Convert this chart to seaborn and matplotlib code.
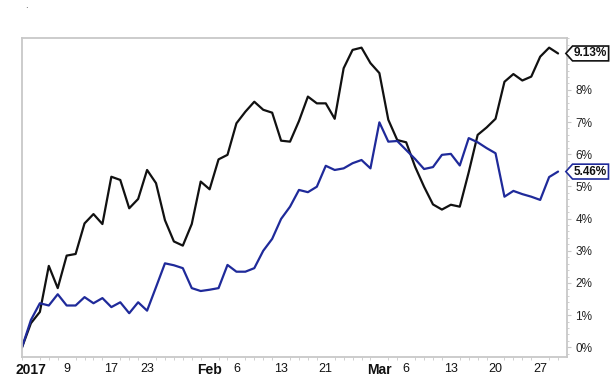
import matplotlib
matplotlib.use("Agg")
import matplotlib.pyplot as plt
import matplotlib.transforms as mtransforms
from matplotlib.path import Path
from matplotlib.ticker import MultipleLocator, FixedLocator
import seaborn as sns
import pandas as pd

# ---- data (trading days, cumulative % performance) ----
dates = ["2016-12-30",
         "2017-01-03", "2017-01-04", "2017-01-05", "2017-01-06", "2017-01-09", "2017-01-10",
         "2017-01-11", "2017-01-12", "2017-01-13", "2017-01-17", "2017-01-18", "2017-01-19",
         "2017-01-20", "2017-01-23", "2017-01-24", "2017-01-25", "2017-01-26", "2017-01-27",
         "2017-01-30", "2017-01-31",
         "2017-02-01", "2017-02-02", "2017-02-03", "2017-02-06", "2017-02-07", "2017-02-08",
         "2017-02-09", "2017-02-10", "2017-02-13", "2017-02-14", "2017-02-15", "2017-02-16",
         "2017-02-17", "2017-02-21", "2017-02-22", "2017-02-23", "2017-02-24", "2017-02-27",
         "2017-02-28",
         "2017-03-01", "2017-03-02", "2017-03-03", "2017-03-06", "2017-03-07", "2017-03-08",
         "2017-03-09", "2017-03-10", "2017-03-13", "2017-03-14", "2017-03-15", "2017-03-16",
         "2017-03-17", "2017-03-20", "2017-03-21", "2017-03-22", "2017-03-23", "2017-03-24",
         "2017-03-27", "2017-03-28", "2017-03-29"]

black_series = [0, 0.75, 1.1, 2.53, 1.84, 2.85, 2.9, 3.85, 4.14, 3.83, 5.3,
                5.2, 4.32, 4.61, 5.51, 5.1, 3.95, 3.29, 3.16, 3.83, 5.15,
                4.91, 5.84, 5.98, 6.96, 7.32, 7.63, 7.38, 7.29, 6.42, 6.39,
                7.03, 7.79, 7.58, 7.58, 7.1, 8.67, 9.24, 9.31, 8.83, 8.52,
                7.07, 6.44, 6.37, 5.61, 4.99, 4.44, 4.28, 4.43, 4.37, 5.44,
                6.6, 6.83, 7.1, 8.25, 8.49, 8.29, 8.41, 9.03, 9.31, 9.13]

blue_series = [0, 0.85, 1.37, 1.3, 1.65, 1.3, 1.3, 1.56, 1.37, 1.53, 1.25,
               1.4, 1.06, 1.4, 1.14, 1.87, 2.61, 2.55, 2.46, 1.84, 1.75,
               1.79, 1.84, 2.56, 2.35, 2.35, 2.46, 3.0, 3.37, 3.99, 4.37,
               4.89, 4.82, 4.99, 5.64, 5.51, 5.56, 5.72, 5.82, 5.56, 6.99,
               6.39, 6.41, 6.13, 5.85, 5.54, 5.6, 5.98, 6.01, 5.65, 6.5,
               6.37, 6.19, 6.03, 4.68, 4.86, 4.76, 4.68, 4.58, 5.29, 5.46]

tick_dates = ["2017-01-03", "2017-01-09", "2017-01-17", "2017-01-23", "2017-02-01",
              "2017-02-06", "2017-02-13", "2017-02-21", "2017-03-01", "2017-03-06",
              "2017-03-13", "2017-03-20", "2017-03-27"]
tick_labels = ["2017", "9", "17", "23", "Feb", "6", "13", "21", "Mar", "6", "13", "20", "27"]
bold_labels = ["2017", "Feb", "Mar"]
y_ticks = [0, 1, 2, 3, 4, 5, 6, 7, 8]
y_labels = ["0%", "1%", "2%", "3%", "4%", "5%", "6%", "7%", "8%"]
end_labels = ["9.13%", "5.46%"]

BLACK = "#111111"
BLUE = "#1f2a9a"
GRAY = "#c8c8c8"

df = pd.DataFrame({"idx": range(len(dates)), "date": dates,
                   "black": black_series, "blue": blue_series})

sns.set_style("white")
plt.rcParams["font.family"] = ["Liberation Sans", "DejaVu Sans"]

fig = plt.figure(figsize=(6.13, 3.79), dpi=100)
ax = fig.add_axes([22 / 613, 1 - 357 / 379, (567 - 22) / 613, (357 - 38) / 379])

sns.lineplot(data=df, x="idx", y="black", color=BLACK, linewidth=1.6, ax=ax)
sns.lineplot(data=df, x="idx", y="blue", color=BLUE, linewidth=1.6, ax=ax)

ax.set_xlim(0, 61)
ax.set_ylim(-0.3, 9.61)
ax.set_xlabel("")
ax.set_ylabel("")

# x ticks
pos = [dates.index(d) for d in tick_dates]
ax.xaxis.set_major_locator(FixedLocator(pos))
ax.set_xticklabels(tick_labels)
ax.xaxis.set_minor_locator(FixedLocator(list(range(len(dates)))))
ax.tick_params(axis="x", which="major", length=3, color=GRAY, labelsize=9,
               pad=1.5, labelcolor="#111111")
ax.tick_params(axis="x", which="minor", length=2, color=GRAY, bottom=True)
for t in ax.get_xticklabels():
    if t.get_text() in bold_labels:
        t.set_fontweight("bold")
        t.set_fontsize(10)

# y ticks on right
ax.yaxis.tick_right()
ax.set_yticks(y_ticks)
ax.set_yticklabels(y_labels)
ax.yaxis.set_minor_locator(MultipleLocator(0.2))
ax.tick_params(axis="y", which="major", length=3, color=GRAY, labelsize=8.5,
               pad=3, labelcolor="#222222", left=False, right=True)
ax.tick_params(axis="y", which="minor", length=1.5, color=GRAY, left=False, right=True)

for s in ax.spines.values():
    s.set_visible(True)
    s.set_color(GRAY)
    s.set_linewidth(1.3)


def pentagon(x0, y0, width, height, mutation_size):
    pad = 0.12 * mutation_size
    x0 -= pad
    y0 -= pad
    w = width + 2 * pad
    h = height + 2 * pad
    tip = x0 - 0.45 * h
    verts = [(x0, y0), (x0 + w, y0), (x0 + w, y0 + h), (x0, y0 + h),
             (tip, y0 + h / 2), (x0, y0), (x0, y0)]
    codes = [Path.MOVETO, Path.LINETO, Path.LINETO, Path.LINETO,
             Path.LINETO, Path.LINETO, Path.CLOSEPOLY]
    return Path(verts, codes)


trans = mtransforms.blended_transform_factory(ax.transAxes, ax.transData)
for val, txt, col in [(black_series[-1], end_labels[0], BLACK),
                      (blue_series[-1], end_labels[1], BLUE)]:
    ax.annotate(txt, xy=(1.0, val), xycoords=trans, xytext=(5, 0),
                textcoords="offset points", ha="left", va="center",
                fontsize=8.5, fontweight="bold", color="#111111",
                annotation_clip=False,
                bbox=dict(boxstyle=pentagon, fc="white", ec=col, lw=1.2))

fig.text(26 / 613, 1 - 5 / 379, ".", fontsize=7, color="#444444", ha="center", va="center")

fig.savefig("out.png", dpi=100, facecolor="white")
